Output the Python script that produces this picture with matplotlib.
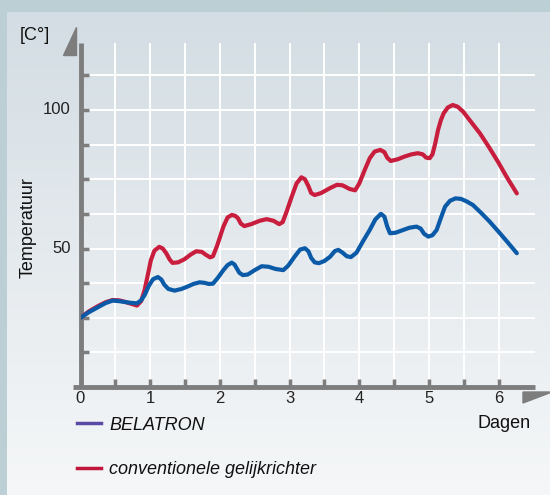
import numpy as np
import matplotlib
matplotlib.use("Agg")
import matplotlib.pyplot as plt
from matplotlib.patches import Polygon

# days, temperature
red_d = [0.00, 0.12, 0.25, 0.36, 0.46, 0.55, 0.63, 0.72, 0.81, 0.87, 0.92, 0.97, 1.01, 1.06,
         1.13, 1.18, 1.23, 1.28, 1.32, 1.40, 1.49, 1.58, 1.66, 1.74, 1.80, 1.86, 1.90, 1.96,
         2.05, 2.11, 2.17, 2.22, 2.26, 2.30, 2.35, 2.45, 2.57, 2.67, 2.77, 2.85, 2.90, 2.96,
         3.03, 3.10, 3.17, 3.22, 3.27, 3.31, 3.36, 3.45, 3.58, 3.68, 3.76, 3.86, 3.94, 4.00,
         4.08, 4.15, 4.22, 4.30, 4.36, 4.40, 4.45, 4.55, 4.65, 4.75, 4.84, 4.91, 4.96, 5.01,
         5.05, 5.09, 5.13, 5.17, 5.21, 5.27, 5.34, 5.41, 5.49, 5.60, 5.73, 5.86, 5.99, 6.12, 6.26]
red_t = [25.0, 27.3, 29.2, 30.6, 31.4, 31.3, 30.8, 30.1, 29.4, 31.0, 35.0, 41.0, 45.8, 49.2,
         50.6, 50.0, 48.3, 46.0, 44.8, 45.0, 46.1, 47.8, 49.0, 48.8, 47.7, 46.8, 47.2, 51.0,
         57.9, 61.2, 62.1, 61.8, 60.9, 59.0, 58.1, 58.8, 60.0, 60.6, 60.0, 58.8, 59.5, 63.5,
         68.7, 73.5, 75.7, 75.0, 72.5, 70.0, 69.3, 70.0, 71.8, 73.0, 72.8, 71.5, 71.0, 73.5,
         78.5, 82.6, 85.0, 85.6, 84.8, 82.8, 81.6, 82.2, 83.2, 84.0, 84.4, 84.0, 82.8, 82.6,
         84.0, 88.0, 92.8, 96.3, 98.8, 100.9, 101.8, 101.2, 99.4, 95.8, 91.6, 86.6, 81.3, 75.6, 69.9]

blue_d = [0.00, 0.12, 0.25, 0.36, 0.46, 0.55, 0.63, 0.72, 0.81, 0.87, 0.92, 0.98, 1.04, 1.11,
          1.16, 1.20, 1.26, 1.35, 1.45, 1.54, 1.62, 1.71, 1.78, 1.84, 1.90, 1.97, 2.05, 2.11,
          2.17, 2.21, 2.24, 2.28, 2.33, 2.40, 2.50, 2.60, 2.70, 2.80, 2.91, 2.98, 3.07, 3.15,
          3.22, 3.27, 3.31, 3.36, 3.42, 3.50, 3.58, 3.65, 3.70, 3.76, 3.82, 3.88, 3.96, 4.05,
          4.15, 4.23, 4.31, 4.36, 4.40, 4.44, 4.52, 4.62, 4.72, 4.82, 4.88, 4.93, 4.99, 5.05,
          5.11, 5.17, 5.23, 5.30, 5.38, 5.46, 5.54, 5.63, 5.75, 5.87, 6.00, 6.13, 6.26]
blue_t = [25.0, 27.0, 28.8, 30.3, 31.2, 31.0, 30.7, 30.4, 30.2, 31.3, 33.2, 36.5, 38.9, 39.7,
          38.8, 37.0, 35.4, 34.8, 35.4, 36.3, 37.2, 37.8, 37.6, 37.2, 37.3, 39.4, 42.2, 44.0,
          44.9, 44.2, 42.9, 41.2, 40.4, 40.6, 42.2, 43.6, 43.4, 42.6, 42.2, 43.8, 47.0, 49.6,
          50.1, 49.0, 46.6, 45.0, 44.7, 45.5, 47.0, 49.1, 49.5, 48.5, 47.2, 46.9, 48.5, 52.5,
          56.7, 60.5, 62.5, 61.5, 58.0, 55.5, 55.7, 56.6, 57.5, 57.9, 57.2, 55.3, 54.3, 54.8,
          56.7, 61.0, 65.1, 67.2, 68.1, 67.9, 67.0, 65.7, 62.8, 59.7, 56.0, 52.2, 48.3]

x_ticks = np.arange(0.5, 6.01, 0.5)
y_ticks = np.arange(12.5, 112.6, 12.5)
x_labels = ["0", "1", "2", "3", "4", "5", "6"]

plt.rcParams['font.family'] = ['Liberation Sans Narrow', 'Liberation Sans', 'DejaVu Sans']

W, H = 550, 495
fig = plt.figure(figsize=(W / 100, H / 100), dpi=100, facecolor="#bccfd4")

# light panel with vertical gradient
bg = fig.add_axes([7 / W, 0, 1 - 7 / W, 1 - 12 / H], zorder=0)
grad = np.linspace(0, 1, 256).reshape(-1, 1)
cmap = matplotlib.colors.LinearSegmentedColormap.from_list("bg", ["#d3dde3", "#e5eaee", "#f5f7f8"])
bg.imshow(grad, aspect="auto", cmap=cmap, extent=[0, 1, 1, 0])
bg.axis("off")

x0, y0 = 80.5, 387
px_day, px_deg = 69.7, 2.77
xmax, ymax = (535 - x0) / px_day, (y0 - 43) / px_deg
ax = fig.add_axes([x0 / W, (H - y0) / H, (535 - x0) / W, (y0 - 43) / H], zorder=1)
ax.set_facecolor("none")
ax.set_xlim(0, xmax)
ax.set_ylim(0, ymax)
for s in ax.spines.values():
    s.set_visible(False)

ax.set_xticks(x_ticks)
ax.set_xticklabels([])
ax.set_yticks(y_ticks)
ax.set_yticklabels([])
ax.tick_params(direction="in", length=6, width=2.5, color="#7d7d7d")
ax.grid(True, color="white", lw=1.4)
ax.set_axisbelow(True)

# axis lines
gray = "#7d7d7d"
ax.plot([-8 / px_day, xmax], [0, 0], color=gray, lw=3.5, clip_on=False, zorder=3, solid_capstyle="butt")
ax.plot([0, 0], [0, ymax], color=gray, lw=3.5, clip_on=False, zorder=3, solid_capstyle="butt")

# tick labels
for i, lab in enumerate(x_labels):
    ax.text(i, -4.3, lab, ha="center", va="center", fontsize=12, color="#222222")
for v in [50, 100]:
    ax.text(-10 / px_day, v, str(v), ha="right", va="center", fontsize=12, color="#222222")

ax.plot(red_d, red_t, color="#c91d3e", lw=3, solid_joinstyle="round", solid_capstyle="round", zorder=4)
ax.plot(blue_d, blue_t, color="#0b5aa8", lw=3, solid_joinstyle="round", solid_capstyle="round", zorder=5)

# arrow heads
fig.patches.append(Polygon([(63 / W, 1 - 55 / H), (76 / W, 1 - 55 / H), (76 / W, 1 - 27 / H)],
                           closed=True, transform=fig.transFigure, color=gray, zorder=3))
fig.patches.append(Polygon([(523 / W, 1 - 392 / H), (552 / W, 1 - 392 / H), (523 / W, 1 - 403 / H)],
                           closed=True, transform=fig.transFigure, color=gray, zorder=3))

fig.text(20 / W, 1 - 36 / H, "[C°]", ha="left", va="center", fontsize=13, color="#111111")
fig.text(28 / W, 1 - 228 / H, "Temperatuur", ha="center", va="center", rotation=90, fontsize=13, color="#111111")
fig.text(531 / W, 1 - 424 / H, "Dagen", ha="right", va="center", fontsize=13, color="#111111")

# legend
fig.lines.append(plt.Line2D([77 / W, 101 / W], [1 - 423 / H] * 2, transform=fig.transFigure, color="#5a4aa6", lw=2.5))
fig.lines.append(plt.Line2D([77 / W, 101 / W], [1 - 468 / H] * 2, transform=fig.transFigure, color="#c0163c", lw=2.5))
fig.text(109 / W, 1 - 425 / H, "BELATRON", ha="left", va="center", fontsize=13, style="italic", color="#111111")
fig.text(109 / W, 1 - 469 / H, "conventionele gelijkrichter", ha="left", va="center", fontsize=13, style="italic", color="#111111")

fig.savefig("out.png", dpi=100, facecolor=fig.get_facecolor())
